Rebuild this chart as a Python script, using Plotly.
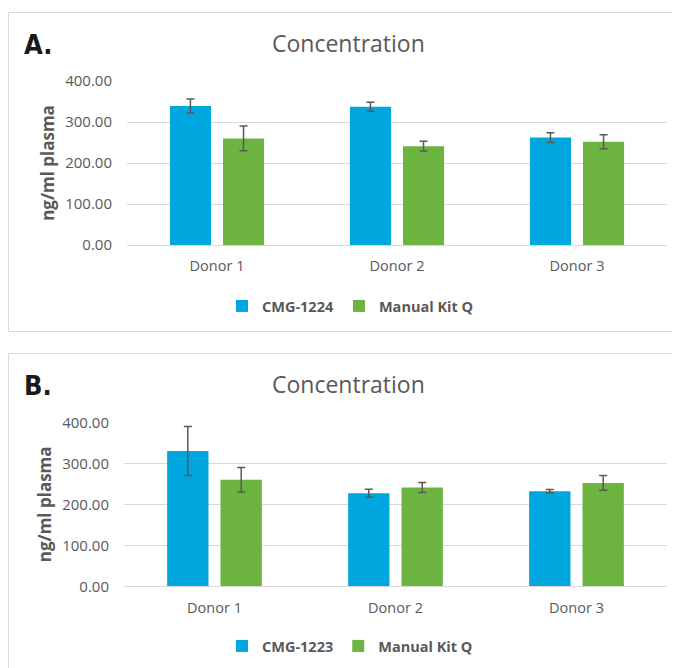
import plotly.graph_objects as go

# The page body has an 8px margin; the figure starts at (8, 8) on screen
OX, OY = 8, 8
FW, FH = 664, 660

donors = ["Donor 1", "Donor 2", "Donor 3"]

# Panel A
a_cmg_name = "CMG-1224"
a_cmg = [339, 337, 262]
a_cmg_err = [17, 11, 12]
a_kit_name = "Manual Kit Q"
a_kit = [260, 241, 252]
a_kit_err = [30, 12, 17]

# Panel B
b_cmg_name = "CMG-1223"
b_cmg = [330, 227, 232]
b_cmg_err = [60, 10, 4]
b_kit_name = "Manual Kit Q"
b_kit = [260, 241, 252]
b_kit_err = [30, 12, 18]

y_ticks = [0, 100, 200, 300, 400]

BLUE = "#00A7DE"
GREEN = "#6DB33F"
GRAY = "#595959"
BORDER = "#d9d9d9"
FONT = "Open Sans, Noto Sans, sans-serif"


def px_x(p):
    return (p - OX) / FW


def px_y(p):
    return 1 - (p - OY) / FH


fig = go.Figure()


def add_pair(xa, ya, leg, c_name, c_vals, c_err, k_name, k_vals, k_err):
    for name, vals, err, col in [(c_name, c_vals, c_err, BLUE), (k_name, k_vals, k_err, GREEN)]:
        fig.add_trace(go.Bar(
            x=donors, y=vals, name="<b>" + name + "</b>",
            marker=dict(color=col, line=dict(width=0)),
            error_y=dict(type="data", array=err, visible=True, color=GRAY, thickness=1.5, width=4),
            xaxis=xa, yaxis=ya, legend=leg,
        ))


add_pair("x", "y", "legend", a_cmg_name, a_cmg, a_cmg_err, a_kit_name, a_kit, a_kit_err)
add_pair("x2", "y2", "legend2", b_cmg_name, b_cmg, b_cmg_err, b_kit_name, b_kit, b_kit_err)

axis_common_y = dict(
    range=[0, 400], tickvals=y_ticks, tickformat=".2f",
    showgrid=True, gridcolor=BORDER, gridwidth=1, zeroline=False,
    showline=False, ticks="", tickfont=dict(family=FONT, size=15, color=GRAY),
    ticklabelstandoff=14,
    title=dict(text="<b>ng/ml plasma</b>", font=dict(family=FONT, size=17, color=GRAY), standoff=6),
    fixedrange=True, automargin=False,
)
axis_common_x = dict(
    showgrid=False, ticks="", showline=True, linecolor=BORDER, linewidth=1,
    tickfont=dict(family=FONT, size=14.5, color=GRAY), ticklabelstandoff=8,
    fixedrange=True, automargin=False,
)

legend_common = dict(orientation="h", xanchor="left", yanchor="middle",
                     font=dict(family=FONT, size=14.5, color=GRAY), itemwidth=30,
                     bgcolor="rgba(0,0,0,0)")

fig.update_layout(
    width=FW, height=FH,
    margin=dict(l=0, r=0, t=0, b=0, pad=0, autoexpand=False),
    paper_bgcolor="white", plot_bgcolor="white",
    barmode="group", bargap=0.41, bargroupgap=0.226,
    font=dict(family=FONT, color=GRAY),
    xaxis=dict(domain=[px_x(127), px_x(667)], anchor="y", **axis_common_x),
    yaxis=dict(domain=[px_y(245), px_y(81)], anchor="x", **axis_common_y),
    xaxis2=dict(domain=[px_x(124), px_x(667)], anchor="y2", **axis_common_x),
    yaxis2=dict(domain=[px_y(586.3), px_y(422.3)], anchor="x2", **axis_common_y),
    legend=dict(x=px_x(222), y=px_y(306), **legend_common),
    legend2=dict(x=px_x(222), y=px_y(646), **legend_common),
    showlegend=True,
)

# panel frames: left, top and bottom edges (right and lower edges run off the picture)
def hline(y, x0=8.5, x1=720):
    fig.add_shape(type="line", xref="paper", yref="paper", x0=px_x(x0), x1=px_x(x1),
                  y0=px_y(y), y1=px_y(y), line=dict(color=BORDER, width=1), layer="below")


def vline(x, y0, y1):
    fig.add_shape(type="line", xref="paper", yref="paper", x0=px_x(x), x1=px_x(x),
                  y0=px_y(y0), y1=px_y(y1), line=dict(color=BORDER, width=1), layer="below")


hline(12.5)
hline(331.5)
vline(8.5, 12.5, 331.5)
hline(353.5)
vline(8.5, 353.5, 720)

# titles and panel labels
for ty, lab in [(43, "A."), (384, "B.")]:
    fig.add_annotation(text="Concentration", xref="paper", yref="paper", x=px_x(348), y=px_y(ty),
                       showarrow=False, xanchor="center", yanchor="middle",
                       font=dict(family=FONT, size=23, color=GRAY))
    fig.add_annotation(text="<b>" + lab + "</b>", xref="paper", yref="paper", x=px_x(22), y=px_y(ty + 1),
                       showarrow=False, xanchor="left", yanchor="middle",
                       font=dict(family="Liberation Sans Narrow, DejaVu Sans Condensed, sans-serif",
                                 size=27, color="#1a1a1a"))

fig.write_html("out.html")
